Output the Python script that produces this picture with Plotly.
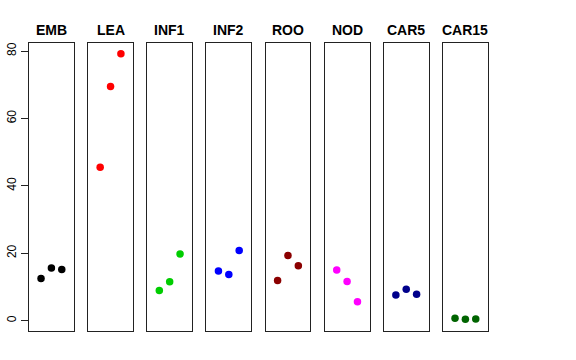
import plotly.graph_objects as go

tissues = ["EMB", "LEA", "INF1", "INF2", "ROO", "NOD", "CAR5", "CAR15"]
colors = ["#000000", "#FF0000", "#00CD00", "#0000FF", "#8B0000", "#FF00FF", "#00008B", "#006400"]
positions = [1, 2, 3]
values = [
    [12.5, 15.6, 15.2],
    [45.5, 69.5, 79.2],
    [8.9, 11.5, 19.8],
    [14.7, 13.7, 20.8],
    [11.9, 19.3, 16.3],
    [15.0, 11.6, 5.6],
    [7.6, 9.3, 7.8],
    [0.7, 0.4, 0.5],
]
y_ticks = [0, 20, 40, 60, 80]

W, H = 576, 360
left0, step, pw = 29.0, 59.14, 44.8
top_px, bot_px = 43.0, 330.7

fig = go.Figure()
layout = {}
annotations = []
for i, (name, col, vals) in enumerate(zip(tissues, colors, values)):
    k = "" if i == 0 else str(i + 1)
    fig.add_trace(go.Scatter(
        x=positions, y=vals, mode="markers",
        marker=dict(color=col, size=7.5),
        xaxis="x" + k, yaxis="y" + k, showlegend=False, hoverinfo="y",
    ))
    l = left0 + step * i
    layout["xaxis" + k] = dict(
        domain=[l / W, (l + pw) / W], range=[-0.16, 4.16],
        showticklabels=False, ticks="", showgrid=False, zeroline=False,
        showline=True, mirror=True, linecolor="#222", linewidth=1,
        anchor="y" + k, fixedrange=True,
    )
    ya = dict(
        domain=[(H - bot_px) / H, (H - top_px) / H], range=[-3.0, 82.4],
        showgrid=False, zeroline=False, showline=True, mirror=True,
        linecolor="#222", linewidth=1, anchor="x" + k, fixedrange=True,
    )
    if i == 0:
        ya.update(tickvals=y_ticks, ticks="outside", ticklen=7, tickcolor="#222",
                  tickangle=-90, tickfont=dict(size=12, color="#000"), automargin=False)
    else:
        ya.update(showticklabels=False, ticks="")
    layout["yaxis" + k] = ya
    annotations.append(dict(
        text="<b>" + name + "</b>", x=(l + pw / 2) / W, y=(H - 29.5) / H,
        xref="paper", yref="paper", showarrow=False, xanchor="center", yanchor="middle",
        font=dict(size=14, color="#000"),
    ))

fig.update_layout(
    **layout, annotations=annotations,
    width=W, height=H, margin=dict(l=0, r=0, t=0, b=0),
    paper_bgcolor="white", plot_bgcolor="white",
    font=dict(family="Liberation Sans, Arial, sans-serif"),
)
fig.write_html(
    "out.html", config={"displayModeBar": False},
    post_script="document.body.style.margin='0';document.body.style.overflow='hidden';",
)
